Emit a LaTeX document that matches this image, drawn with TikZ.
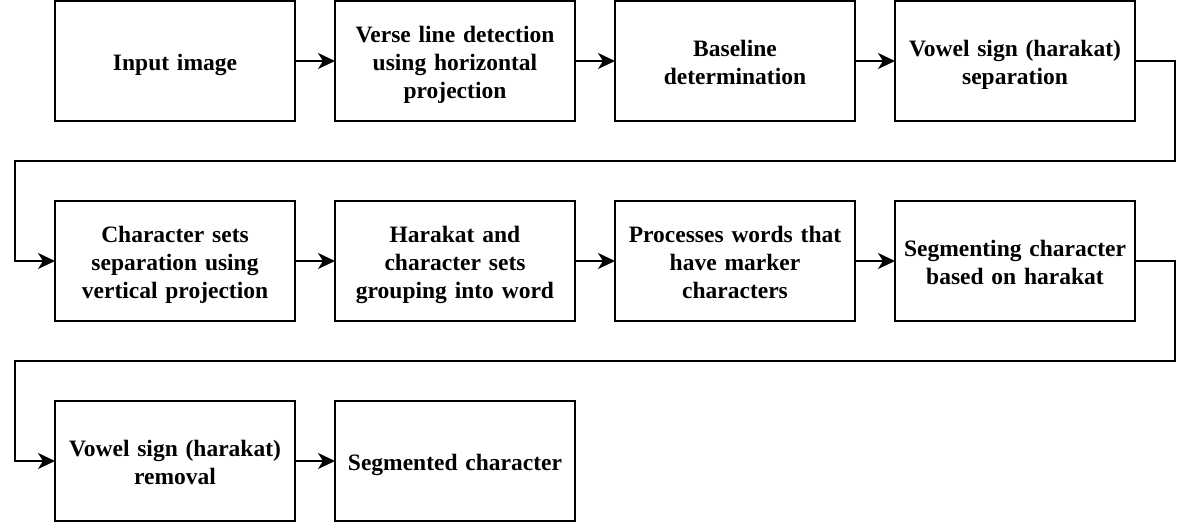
\documentclass[tikz,border=0pt]{standalone}
\usepackage{fontspec}
\setmainfont{Liberation Serif}
\usetikzlibrary{arrows.meta}
\begin{document}
\begin{tikzpicture}[x=1pt,y=-1pt,
  stepbox/.style={draw,line width=1.8pt,minimum width=240pt,minimum height=120pt,inner sep=0pt,outer sep=0pt,
    anchor=north west,label={[lbl,yshift=-4pt]center:#1}},
  lbl/.style={text width=236pt,align=center,font=\fontsize{23.5}{28}\selectfont\bfseries,inner sep=0pt,
    execute at begin node=\strut, execute at end node=\strut},
  conn/.style={line width=1.8pt,-{Stealth[length=17pt,width=16pt,inset=5pt]}}]
\useasboundingbox (0,0) rectangle (1192,522);
\node[stepbox={Input image}] (a1) at (55,1) {};
\node[stepbox={Verse line detection\\using horizontal\\projection}] (a2) at (335,1) {};
\node[stepbox={Baseline\\determination}] (a3) at (615,1) {};
\node[stepbox={Vowel sign (harakat)\\separation}] (a4) at (895,1) {};
\node[stepbox={Character sets\\separation using\\vertical projection}] (b1) at (55,201) {};
\node[stepbox={Harakat and\\character sets\\grouping into word}] (b2) at (335,201) {};
\node[stepbox={Processes words that\\have marker\\characters}] (b3) at (615,201) {};
\node[stepbox={Segmenting character\\based on harakat}] (b4) at (895,201) {};
\node[stepbox={Vowel sign (harakat)\\removal}] (c1) at (55,401) {};
\node[stepbox={Segmented character}] (c2) at (335,401) {};
\draw[conn] (a1) -- (a2);
\draw[conn] (a2) -- (a3);
\draw[conn] (a3) -- (a4);
\draw[conn] (b1) -- (b2);
\draw[conn] (b2) -- (b3);
\draw[conn] (b3) -- (b4);
\draw[conn] (c1) -- (c2);
\draw[conn] (a4.east) -- ++(40,0) |- (615,161) -| (15,261) -- (b1.west);
\draw[conn] (b4.east) -- ++(40,0) |- (615,361) -| (15,461) -- (c1.west);
\end{tikzpicture}
\end{document}
